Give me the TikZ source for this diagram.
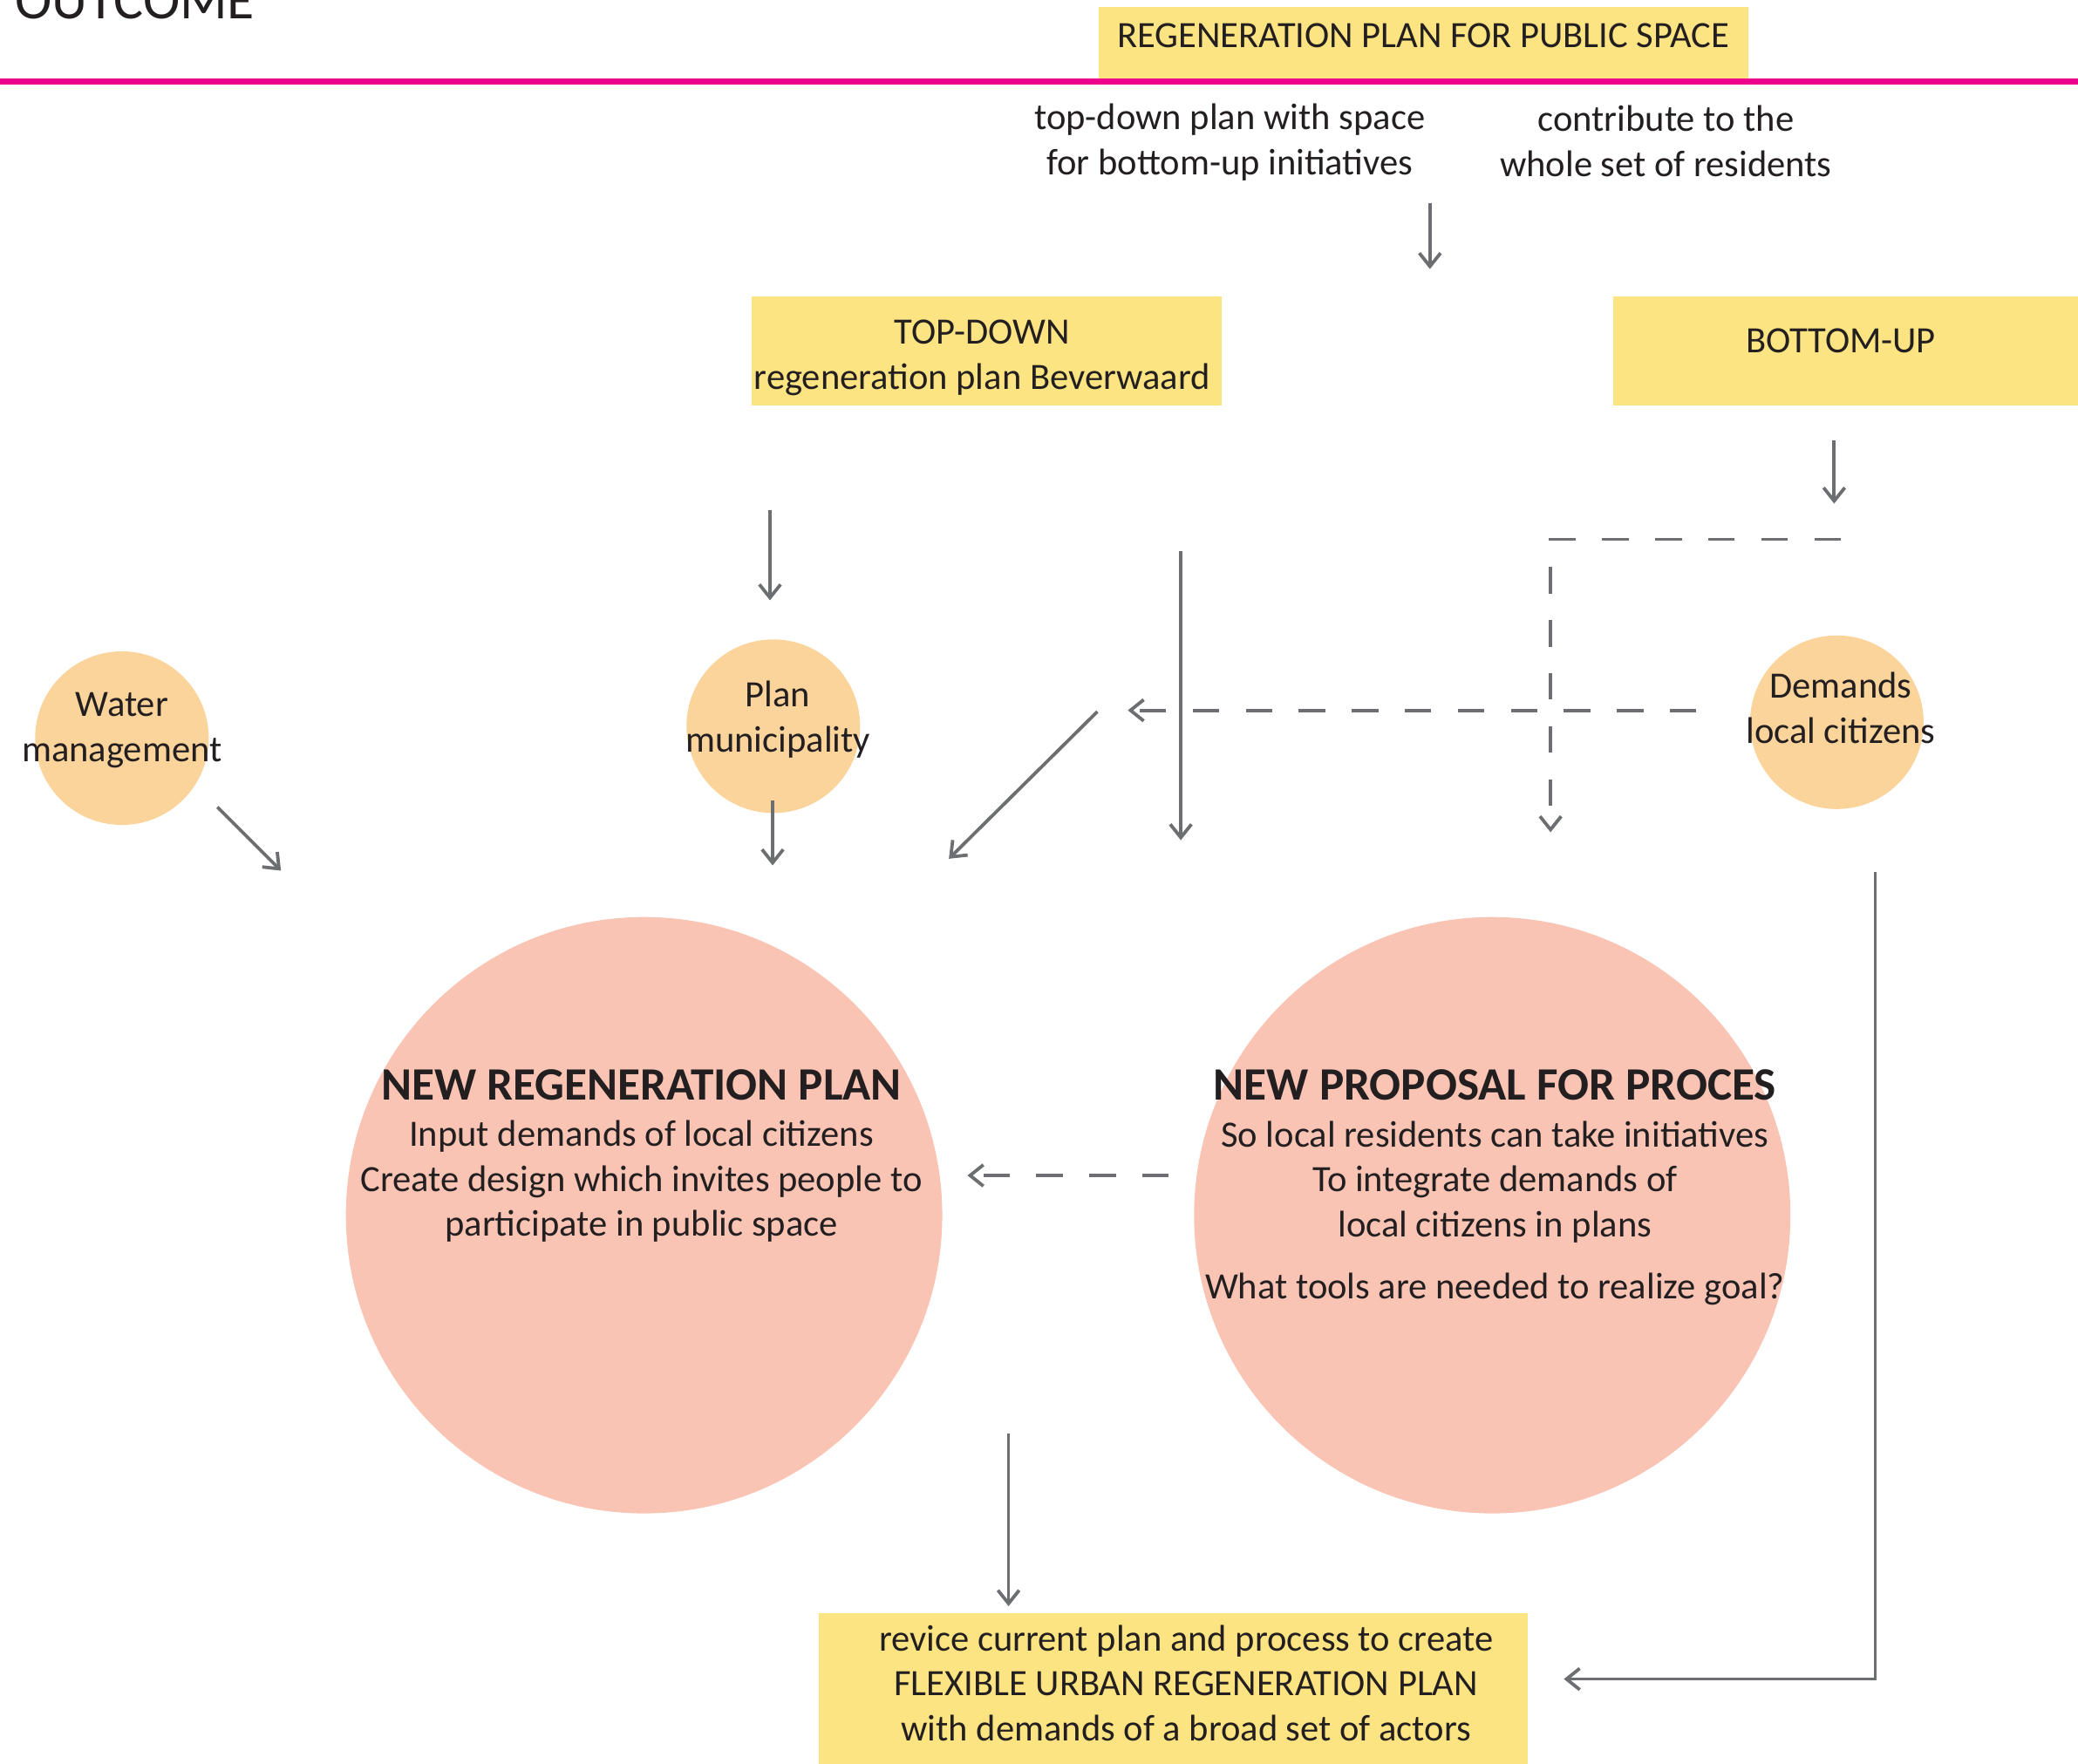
\documentclass[tikz,border=0pt]{standalone}
\usepackage{fontspec}
\setmainfont{Carlito}
\usetikzlibrary{arrows.meta,positioning}
\definecolor{ink}{RGB}{35,31,32}
\definecolor{wire}{RGB}{109,110,113}
\definecolor{rule}{RGB}{236,0,140}
\definecolor{boxyellow}{RGB}{253,228,130}
\definecolor{dotorange}{RGB}{251,212,156}
\definecolor{bigpink}{RGB}{249,196,180}
\begin{document}
\begin{tikzpicture}[x=1pt,y=-1pt,
    every node/.style={text=ink,align=center,font=\fontsize{28}{34}\selectfont},
    plate/.style={fill=boxyellow,inner sep=0pt},
    dot/.style={circle,fill=dotorange,minimum size=131pt,inner sep=0pt},
    bigdot/.style={circle,fill=bigpink,minimum size=450pt,inner sep=0pt},
    head/.style={font=\fontsize{35}{40}\selectfont\bfseries},
    link/.style={draw=wire,line width=2.5pt,-{Straight Barb[length=10pt,width=16pt]}},
    dashlink/.style={link,dash pattern=on 20pt off 20pt}]
  \useasboundingbox (0,0) rectangle (1568,1331);
  \fill[boxyellow] (829,5) rectangle (1319,63);
  \draw
    (8,14) node[anchor=base west,font=\fontsize{42}{48}\selectfont] (title){OUTCOME}
    (1074,27) node (regen){REGENERATION PLAN FOR PUBLIC SPACE};
  \fill[rule] (0,59) rectangle (1568,64);
  \draw
    (928,107.5) node (mixed){top-down plan with space\\for bottom-up initiatives}
    (1257,106.5) node (whole){contribute to the\\whole set of residents}
    (744.5,265) node[plate,minimum width=355pt,minimum height=82pt] (topdown){}
    (741,270) node (topdowntxt){TOP-DOWN\\regeneration plan Beverwaard}
    (1392.5,265) node[plate,minimum width=351pt,minimum height=82pt] (bottomup){}
    (1389,257) node (bottomuptxt){BOTTOM-UP}
    (92,557) node[dot] (water){}
    (583.5,548) node[dot] (muni){}
    (1386,545) node[dot] (demands){}
    (92,551) node (watertxt){Water\\management}
    (587,543) node (munitxt){Plan\\municipality}
    (1389,534) node (demandstxt){Demands\\local citizens}
    (486,917) node[bigdot] (newplan){}
    (1126,917) node[bigdot] (newproc){}
    (885.5,1274) node[plate,minimum width=535pt,minimum height=114pt] (flexible){}
    (895,1270) node (flexibletxt){revice current plan and process to create\\FLEXIBLE URBAN REGENERATION PLAN\\with demands of a broad set of actors};
  \node[head] at (484,819) (newplanhead){NEW REGENERATION PLAN};
  \node at (484,891.5) (newplantxt){Input demands of local citizens\\Create design which invites people to\\participate in public space};
  \node[head] at (1128,819) (newprochead){NEW PROPOSAL FOR PROCES};
  \node at (1128,915.5) (newproctxt){So local residents can take initiatives\\To integrate demands of\\local citizens in plans\\[13pt]What tools are needed to realize goal?};
  \coordinate (a1) at (1079,153);
  \coordinate (a2) at (1079,203);
  \coordinate (b1) at (581,385);
  \coordinate (b2) at (581,453);
  \coordinate (c1) at (1384,332);
  \coordinate (c2) at (1384,380);
  \coordinate (d1) at (1389,407);
  \coordinate (d2) at (1170,407);
  \coordinate (d3) at (1170,628);
  \coordinate (e1) at (891,416);
  \coordinate (e2) at (891,634);
  \coordinate (f1) at (1280,536);
  \coordinate (f2) at (851,536);
  \coordinate (g1) at (828,537);
  \coordinate (g2) at (716,648);
  \coordinate (h1) at (164,609);
  \coordinate (h2) at (212,657);
  \coordinate (i1) at (583,604);
  \coordinate (i2) at (583,653);
  \coordinate (j1) at (882,887);
  \coordinate (j2) at (730,887);
  \coordinate (k1) at (761,1082);
  \coordinate (k2) at (761,1212);
  \coordinate (l1) at (1415,658);
  \coordinate (l2) at (1415,1267);
  \coordinate (l3) at (1180,1267);
  \begin{scope}[link]
    \draw (a1) to (a2);
    \draw (b1) to (b2);
    \draw (c1) to (c2);
    \draw (e1) to (e2);
    \draw (g1) to (g2);
    \draw (h1) to (h2);
    \draw (i1) to (i2);
    \draw (k1) to (k2);
    \draw (l1) -- (l2) -- (l3);
  \end{scope}
  \begin{scope}[dashlink]
    \draw (d1) -- (d2) -- (d3);
    \draw (f1) to (f2);
    \draw (j1) to (j2);
  \end{scope}
\end{tikzpicture}
\end{document}
